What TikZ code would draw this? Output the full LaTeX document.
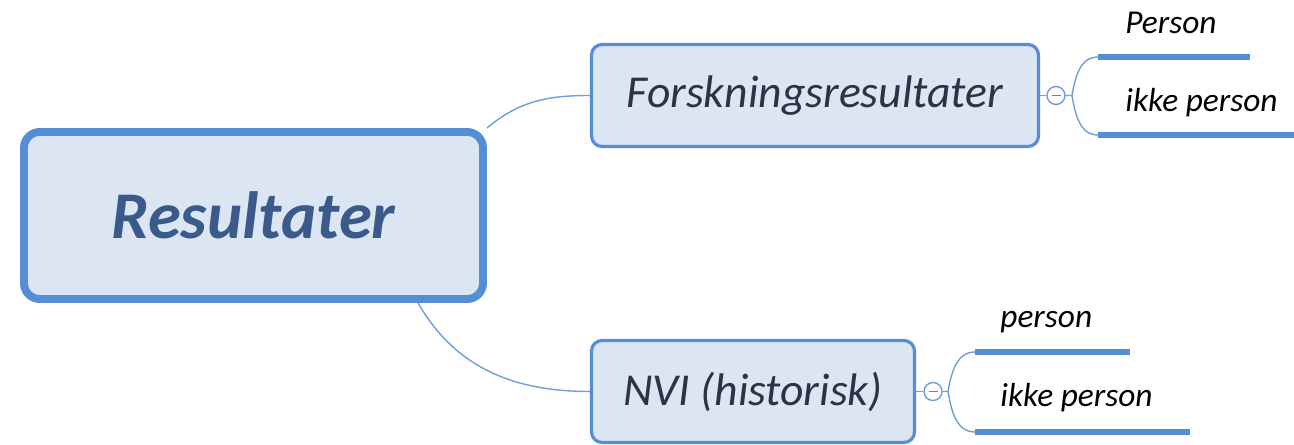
\documentclass[tikz,border=0pt]{standalone}
\usepackage{fontspec}
\setmainfont{Carlito}
\usetikzlibrary{backgrounds}

\definecolor{mapblue}{HTML}{558ED5}
\definecolor{mapfill}{HTML}{DCE6F2}
\definecolor{roottext}{HTML}{3A5A8C}
\definecolor{topictext}{HTML}{2B3445}
\definecolor{twigblue}{HTML}{6F9EDB}

\tikzset{
  rootbox/.style={draw=mapblue, fill=mapfill, line width=4.5pt, rounded corners=9pt,
    minimum width=9.18cm, minimum height=3.34cm, text=roottext,
    font=\fontsize{38}{44}\selectfont\bfseries\itshape},
  topicbox/.style={draw=mapblue, fill=mapfill, line width=1.8pt, rounded corners=6pt,
    minimum height=2.04cm, text=topictext, font=\fontsize{26}{31}\selectfont\itshape},
  foldmark/.style={circle, draw=twigblue, fill=white, line width=0.8pt,
    minimum size=0.36cm, inner sep=0pt},
  twig/.style={draw=twigblue, line width=0.8pt},
  leafline/.style={draw=mapblue, line width=3.2pt},
  leaftext/.style={anchor=base west, inner sep=0pt, font=\fontsize{19}{23}\selectfont\itshape},
}
\newcommand{\foldminus}{\textcolor{gray}{\rule{0.18cm}{0.7pt}}}

\begin{document}
\begin{tikzpicture}
        \useasboundingbox (0,0) rectangle (25.88,8.9);

        % Central topic
        \node[rootbox] (root) at (5.07,4.59) {Resultater};

        % Main topics
        \node[topicbox, minimum width=8.94cm] (forsk) at (16.3,6.99) {Forskningsresultater};
        \node[topicbox, minimum width=6.46cm] (nvi) at (15.06,1.07) {NVI (historisk)};

        % Branches from the centre
        \begin{scope}[on background layer]
            \draw[twig] (root.north east) to[out=40,in=180] (forsk.west);
            \draw[twig] (root.-28) to[out=-60,in=180] (nvi.west);
        \end{scope}

        % Fold marks
        \node[foldmark] (fold1) at (21.12,6.99) {\foldminus};
        \node[foldmark] (fold2) at (18.66,1.07) {\foldminus};
        \draw[twig] (forsk.east) -- (fold1.west);
        \draw[twig] (nvi.east) -- (fold2.west);

        % Sub topics of Forskningsresultater
        \coordinate (fork1) at (21.44,6.99);
        \coordinate (leaf1a) at (21.96,7.76);
        \coordinate (leaf1b) at (21.96,6.2);
        \draw[twig] (fold1.east) -- (fork1) to[out=80,in=180] (leaf1a);
        \draw[twig] (fork1) to[out=-80,in=180] (leaf1b);
        \draw[leafline] (leaf1a) -- ++(3.04,0);
        \draw[leafline] (leaf1b) -- ++(3.92,0);
        \node[leaftext] (txt1a) at (22.5,8.22) {Person};
        \node[leaftext] (txt1b) at (22.5,6.66) {ikke person};

        % Sub topics of NVI
        \coordinate (fork2) at (18.96,1.07);
        \coordinate (leaf2a) at (19.5,1.86);
        \coordinate (leaf2b) at (19.5,0.26);
        \draw[twig] (fold2.east) -- (fork2) to[out=80,in=180] (leaf2a);
        \draw[twig] (fork2) to[out=-80,in=180] (leaf2b);
        \draw[leafline] (leaf2a) -- ++(3.1,0);
        \draw[leafline] (leaf2b) -- ++(4.3,0);
        \node[leaftext] (txt2a) at (20.0,2.34) {person};
        \node[leaftext] (txt2b) at (20.0,0.76) {ikke person};

    \end{tikzpicture}
\end{document}
